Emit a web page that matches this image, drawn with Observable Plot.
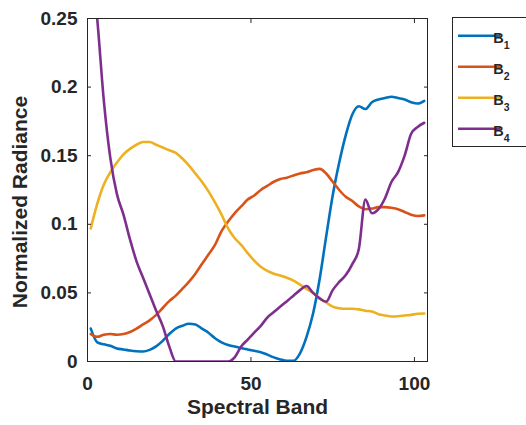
<!DOCTYPE html>
<html><head><meta charset="utf-8">
<script src="https://cdn.jsdelivr.net/npm/d3@7"></script>
<script src="https://cdn.jsdelivr.net/npm/@observablehq/plot@0.6"></script>
<style>html,body{margin:0;padding:0;background:#fff;} #chart{position:relative;width:526px;height:425px;overflow:hidden;}</style>
</head><body><div id="chart"></div>
<script>
const bands = [1,3,5,7,9,11,13,15,17,19,21,23,25,27,29,31,33,35,37,39,41,43,45,47,49,51,53,55,57,59,61,63,65,67,69,71,73,75,77,79,81,83,85,87,89,91,93,95,97,99,101,103];
const B1 = [0.024,0.014,0.0125,0.0115,0.0095,0.0088,0.008,0.0075,0.0073,0.0085,0.011,0.015,0.020,0.024,0.026,0.0275,0.027,0.024,0.021,0.017,0.014,0.012,0.011,0.0098,0.0088,0.0078,0.0068,0.005,0.003,0.0015,0.0005,0.0005,0.006,0.018,0.035,0.060,0.091,0.121,0.145,0.165,0.180,0.186,0.184,0.189,0.191,0.192,0.193,0.192,0.191,0.189,0.188,0.190];
const B2 = [0.020,0.018,0.0195,0.020,0.0195,0.020,0.0215,0.024,0.027,0.030,0.034,0.039,0.044,0.048,0.053,0.058,0.064,0.071,0.078,0.085,0.095,0.102,0.108,0.113,0.118,0.121,0.125,0.128,0.131,0.133,0.134,0.1356,0.137,0.138,0.1395,0.1404,0.137,0.131,0.125,0.120,0.117,0.113,0.111,0.1115,0.1125,0.1125,0.112,0.111,0.109,0.107,0.106,0.1065];
const B3 = [0.097,0.115,0.129,0.138,0.145,0.151,0.155,0.158,0.160,0.160,0.158,0.156,0.154,0.152,0.148,0.143,0.137,0.131,0.124,0.116,0.107,0.097,0.090,0.085,0.079,0.0735,0.069,0.066,0.064,0.0627,0.061,0.059,0.056,0.053,0.050,0.046,0.043,0.040,0.0388,0.0384,0.0384,0.038,0.037,0.0365,0.0345,0.0335,0.0328,0.033,0.0335,0.034,0.0348,0.035];
const B4 = [0.295,0.249,0.19,0.148,0.122,0.107,0.089,0.073,0.061,0.049,0.037,0.026,0.011,0,0,0,0,0,0,0,0,0,0.003,0.011,0.016,0.021,0.026,0.032,0.036,0.040,0.044,0.048,0.052,0.055,0.050,0.046,0.0435,0.052,0.058,0.063,0.071,0.082,0.118,0.108,0.111,0.119,0.131,0.138,0.150,0.166,0.171,0.174];
const seriesNames = ["B1","B2","B3","B4"];
const seriesSubscripts = ["1","2","3","4"];
const seriesValues = [B1,B2,B3,B4];
const seriesColors = ["#0072BD","#D95319","#EDB120","#7E2F8E"];
const xTicks = [0,50,100];
const yTicks = [0,0.05,0.1,0.15,0.2,0.25];
const yTickLabels = ["0","0.05","0.1","0.15","0.2","0.25"];
const xLabel = "Spectral Band";
const yLabel = "Normalized Radiance";

const rows = seriesNames.flatMap((s,i)=> bands.map((b,j)=>({band:b, value:seriesValues[i][j], series:s})));
const ink = "#262626";
const chart = Plot.plot({
  width:526, height:425, marginLeft:87, marginRight:99, marginTop:18, marginBottom:64,
  style:{fontFamily:"'Liberation Sans', Arial, Helvetica, sans-serif", fontSize:"19px", fontWeight:"bold", color:ink, background:"#fff"},
  x:{domain:[0,104]},
  y:{domain:[0,0.25]},
  color:{domain:seriesNames, range:seriesColors},
  marks:[
    Plot.line(rows,{x:"band", y:"value", stroke:"series", z:"series", strokeWidth:2.6, curve:"monotone-x", clip:true}),
    Plot.frame({stroke:ink, strokeWidth:1}),
    Plot.axisX(xTicks,{anchor:"bottom", tickSize:4, dy:-4, tickFormat:()=>"", label:null}),
    Plot.axisX(xTicks,{anchor:"top", tickSize:4, dy:4, tickFormat:()=>"", label:null}),
    Plot.axisY(yTicks,{anchor:"left", tickSize:4, dx:4, tickFormat:()=>"", label:null}),
    Plot.axisY(yTicks,{anchor:"right", tickSize:4, dx:-4, tickFormat:()=>"", label:null}),
    Plot.axisX(xTicks,{anchor:"bottom", tickSize:0, tickPadding:15, tickFormat:d=>String(d), label:null}),
    Plot.axisY(yTicks,{anchor:"left", tickSize:0, tickPadding:10, tickFormat:d=>yTickLabels[yTicks.indexOf(d)], label:null}),
    Plot.text([xLabel],{frameAnchor:"bottom", textAnchor:"middle", dy:52, fontSize:21, fontWeight:"bold", fill:ink}),
    Plot.text([yLabel],{frameAnchor:"left", textAnchor:"middle", rotate:-90, dx:-67, dy:12, fontSize:21, fontWeight:"bold", fill:ink})
  ]
});
document.getElementById("chart").appendChild(chart);

// legend
const svg = d3.select(chart);
const lg = svg.append("g").attr("font-family","'Liberation Sans', Arial, sans-serif").attr("font-weight","bold");
lg.append("rect").attr("x",452.5).attr("y",17.5).attr("width",90).attr("height",129).attr("fill","#fff").attr("stroke",ink).attr("stroke-width",1);
seriesNames.forEach((s,i)=>{
  const y = 35.7 + 31*i;
  lg.append("line").attr("x1",458).attr("x2",500).attr("y1",y).attr("y2",y).attr("stroke",seriesColors[i]).attr("stroke-width",2.6);
  const t = lg.append("text").attr("x",501.5).attr("y",y+7.5).attr("fill",ink).attr("font-size",14.5);
  t.append("tspan").text("B");
  t.append("tspan").attr("dy",5.5).attr("font-size",10.5).text(seriesSubscripts[i]);
});
</script>
</body></html>
